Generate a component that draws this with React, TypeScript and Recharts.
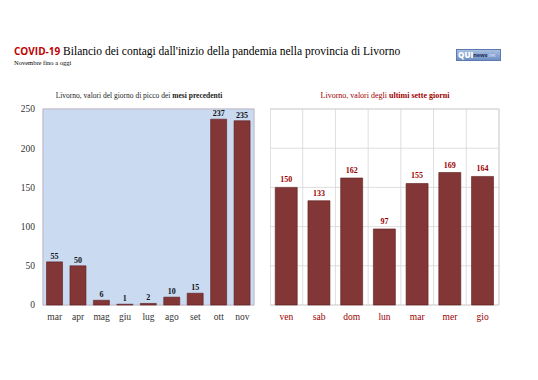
import React from "react";
import { BarChart, Bar, XAxis, YAxis, CartesianGrid, LabelList } from "recharts";

const monthCategories = ["mar", "apr", "mag", "giu", "lug", "ago", "set", "ott", "nov"];
const monthValues = [55, 50, 6, 1, 2, 10, 15, 237, 235];
const dayCategories = ["ven", "sab", "dom", "lun", "mar", "mer", "gio"];
const dayValues = [150, 133, 162, 97, 155, 169, 164];
const yTicks = [0, 50, 100, 150, 200, 250];

const monthData = monthCategories.map((c, i) => ({ cat: c, value: monthValues[i] }));
const dayData = dayCategories.map((c, i) => ({ cat: c, value: dayValues[i] }));

const SERIF = "'Liberation Serif', 'DejaVu Serif', serif";
const BAR = "#833636";
const BAR_STROKE = "#5e1c1c";

const boundaryGen = (n: number) => (props: any) => {
  const { offset } = props;
  const out: number[] = [];
  for (let i = 0; i <= n; i++) out.push(offset.left + (i * offset.width) / n);
  return out;
};

export default function App() {
  return (
    <div style={{ position: "absolute", left: 0, top: 0, width: 538, height: 380, background: "#fff", overflow: "hidden" }}>
      <div style={{ position: "absolute", left: 14, top: 44, whiteSpace: "nowrap", fontFamily: SERIF, fontSize: 11.5, color: "#000" }}>
        <span style={{ fontFamily: "'Open Sans', sans-serif", fontWeight: 700, color: "#c00000", fontSize: 10 }}>COVID-19</span>{" "}
        Bilancio dei contagi dall'inizio della pandemia nella provincia di Livorno
      </div>
      <div style={{ position: "absolute", left: 14, top: 59, fontFamily: SERIF, fontSize: 6.5, color: "#000", whiteSpace: "nowrap" }}>Novembre fino a oggi</div>
      <div style={{ position: "absolute", left: 456, top: 49, width: 45, height: 12, background: "linear-gradient(#a9bfe0, #6f8fc4)", border: "1px solid #5b7ab0", boxSizing: "border-box", fontFamily: "'Open Sans', sans-serif", lineHeight: "10px", whiteSpace: "nowrap", display: "flex", alignItems: "center" }}>
        <span style={{ color: "#fff", fontWeight: 800, fontSize: 8, marginLeft: 1 }}>QUI</span>
        <span style={{ color: "#1d2f5a", fontWeight: 700, fontSize: 5.5 }}>news</span>
        <span style={{ color: "#dde6f5", fontSize: 4.5 }}>.net</span>
      </div>

      <div style={{ position: "absolute", left: 0, top: 91, width: 278, textAlign: "center", fontFamily: SERIF, fontSize: 7.5, color: "#222" }}>
        Livorno, valori del giorno di picco dei <b>mesi precedenti</b>
      </div>
      <div style={{ position: "absolute", left: 270, top: 91, width: 230, textAlign: "center", fontFamily: SERIF, fontSize: 8, color: "#a00000" }}>
        Livorno, valori degli <b>ultimi sette giorni</b>
      </div>

      <div style={{ position: "absolute", left: 0, top: 90 }}>
        <BarChart width={260} height={245} data={monthData} margin={{ top: 19, right: 6, bottom: 0, left: 0 }} barCategoryGap="15%">
          <rect x={43} y={19} width={211} height={196} fill="#c9daf1" />
          <CartesianGrid stroke="#d3b9cc" strokeWidth={0.8} verticalCoordinatesGenerator={boundaryGen(monthCategories.length)} />
          <rect x={43} y={19} width={211} height={196} fill="none" stroke="#b6b6c4" strokeWidth={0.8} />
          <XAxis dataKey="cat" tickLine={false} axisLine={false} height={30} interval={0}
            tick={{ fontFamily: SERIF, fontSize: 9.5, fill: "#333" }} />
          <YAxis domain={[0, 250]} ticks={yTicks} tickLine={false} axisLine={false} width={43}
            tick={{ fontFamily: SERIF, fontSize: 9.5, fill: "#333" }} />
          <Bar dataKey="value" fill={BAR} stroke={BAR_STROKE} strokeWidth={0.6} isAnimationActive={false}>
            <LabelList dataKey="value" position="top" offset={3}
              style={{ fontFamily: SERIF, fontSize: 8, fontWeight: 700, fill: "#111" }} />
          </Bar>
        </BarChart>
      </div>

      <div style={{ position: "absolute", left: 270, top: 90 }}>
        <BarChart width={235} height={245} data={dayData} margin={{ top: 19, right: 6, bottom: 0, left: 0 }} barCategoryGap="16%">
          <CartesianGrid stroke="#d6d6d6" strokeWidth={0.8} verticalCoordinatesGenerator={boundaryGen(dayCategories.length)} />
          <rect x={0} y={19} width={229} height={196} fill="none" stroke="#d0d0d0" strokeWidth={0.8} />
          <XAxis dataKey="cat" tickLine={false} axisLine={false} height={30} interval={0}
            tick={{ fontFamily: SERIF, fontSize: 9.5, fill: "#9a0000" }} />
          <YAxis domain={[0, 250]} ticks={yTicks} hide width={0} />
          <Bar dataKey="value" fill={BAR} stroke={BAR_STROKE} strokeWidth={0.6} isAnimationActive={false}>
            <LabelList dataKey="value" position="top" offset={5}
              style={{ fontFamily: SERIF, fontSize: 8, fontWeight: 700, fill: "#9a0000" }} />
          </Bar>
        </BarChart>
      </div>
    </div>
  );
}
